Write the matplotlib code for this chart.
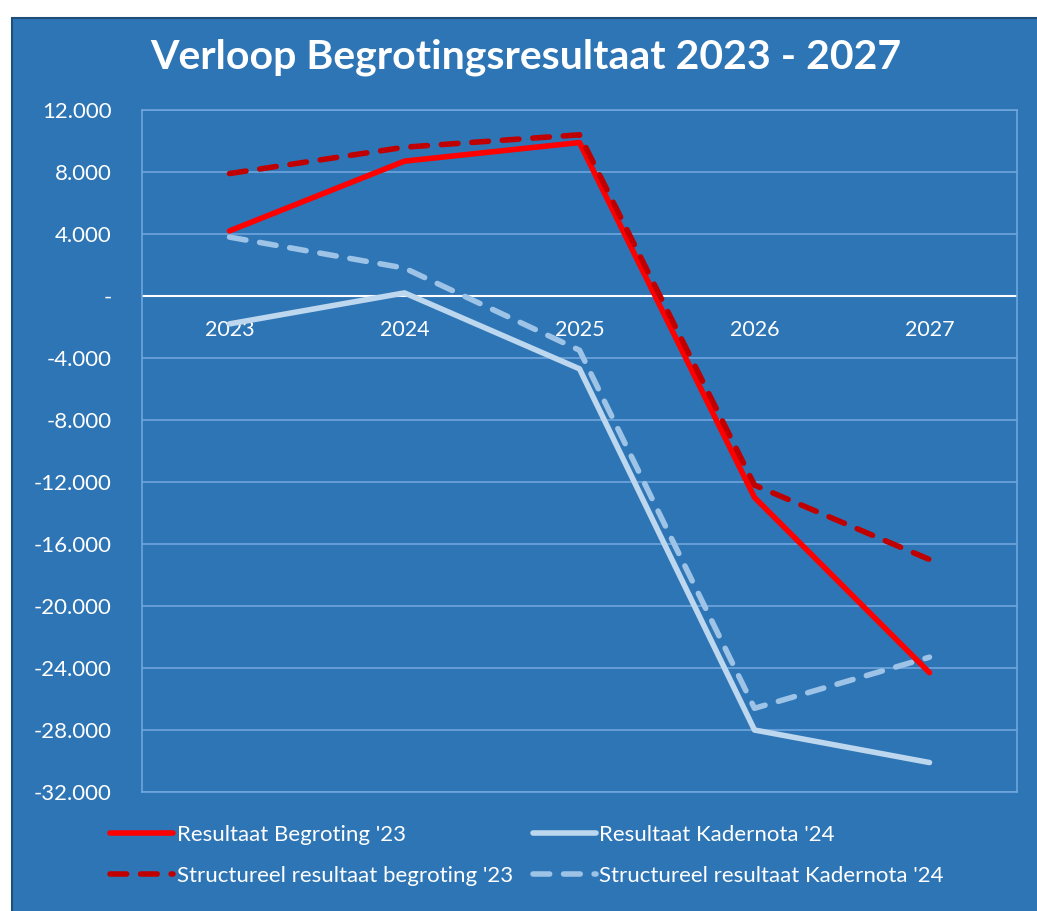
import matplotlib.pyplot as plt
import matplotlib.ticker as mticker
from matplotlib.patches import Rectangle

years = ['2023', '2024', '2025', '2026', '2027']
resultaat_begroting = [4200, 8700, 9900, -13000, -24300]
structureel_begroting = [7900, 9600, 10400, -12200, -17000]
resultaat_kadernota = [-1800, 200, -4700, -28000, -30100]
structureel_kadernota = [3800, 1800, -3500, -26600, -23300]
yticks = list(range(-32000, 12001, 4000))

bg = '#2E75B6'
gridc = '#6FA6DC'
plt.rcParams['font.family'] = ['Lato', 'DejaVu Sans']

fig = plt.figure(figsize=(10.37, 9.11), dpi=100)
fig.patch.set_facecolor('white')
fig.patches.append(Rectangle((12 / 1037, -0.01), 1, 1.01 - 18 / 911, transform=fig.transFigure,
                             facecolor=bg, edgecolor='#1F4E79', lw=1.5, zorder=-10))

ax = fig.add_axes([142 / 1037, 1 - 792 / 911, 875 / 1037, 682 / 911])
ax.set_facecolor(bg)
x = range(len(years))

ax.plot(x, resultaat_begroting, color='#FF0000', lw=4, solid_capstyle='round',
        label="Resultaat Begroting '23", zorder=5)
ax.plot(x, structureel_begroting, color='#C00000', lw=4, ls=(0, (3, 2.5)),
        dash_capstyle='round', label="Structureel resultaat begroting '23", zorder=6)
ax.plot(x, resultaat_kadernota, color='#BDD7EE', lw=4, solid_capstyle='round',
        label="Resultaat Kadernota '24", zorder=4)
ax.plot(x, structureel_kadernota, color='#9DC3E6', lw=4, ls=(0, (3, 2.5)),
        dash_capstyle='round', label="Structureel resultaat Kadernota '24", zorder=3)

ax.set_xlim(-0.5, 4.5)
ax.set_ylim(-32000, 12000)
ax.set_yticks(yticks)
ax.yaxis.set_major_formatter(mticker.FuncFormatter(
    lambda v, p: '-' if v == 0 else f'{v:,.0f}'.replace(',', '.')))
ax.tick_params(axis='y', length=0, pad=22, labelsize=16, labelcolor='white')
ax.grid(axis='y', color=gridc, lw=1.2, zorder=1)
ax.axhline(0, color='white', lw=1.5, zorder=2)
for s in ax.spines.values():
    s.set_color(gridc)
    s.set_linewidth(1.2)

ax.set_xticks([])
for i, yr in enumerate(years):
    ax.annotate(yr, (i, 0), xytext=(0, -17), textcoords='offset points',
                ha='center', va='top', color='white', fontsize=15.5)

fig.text(526 / 1037, 1 - 57 / 911, 'Verloop Begrotingsresultaat 2023 - 2027',
         ha='center', va='center', color='white', fontsize=29.5, fontweight='bold')

leg = fig.legend(loc='upper left', bbox_to_anchor=(110 / 1037, 1 - 825 / 911), ncol=2,
                 frameon=False, fontsize=16, handlelength=2.85, handletextpad=0.15,
                 columnspacing=0.9, labelspacing=0.95, borderpad=0, borderaxespad=0,
                 labelcolor='white')

fig.savefig('out.png', dpi=100, facecolor=fig.get_facecolor())
